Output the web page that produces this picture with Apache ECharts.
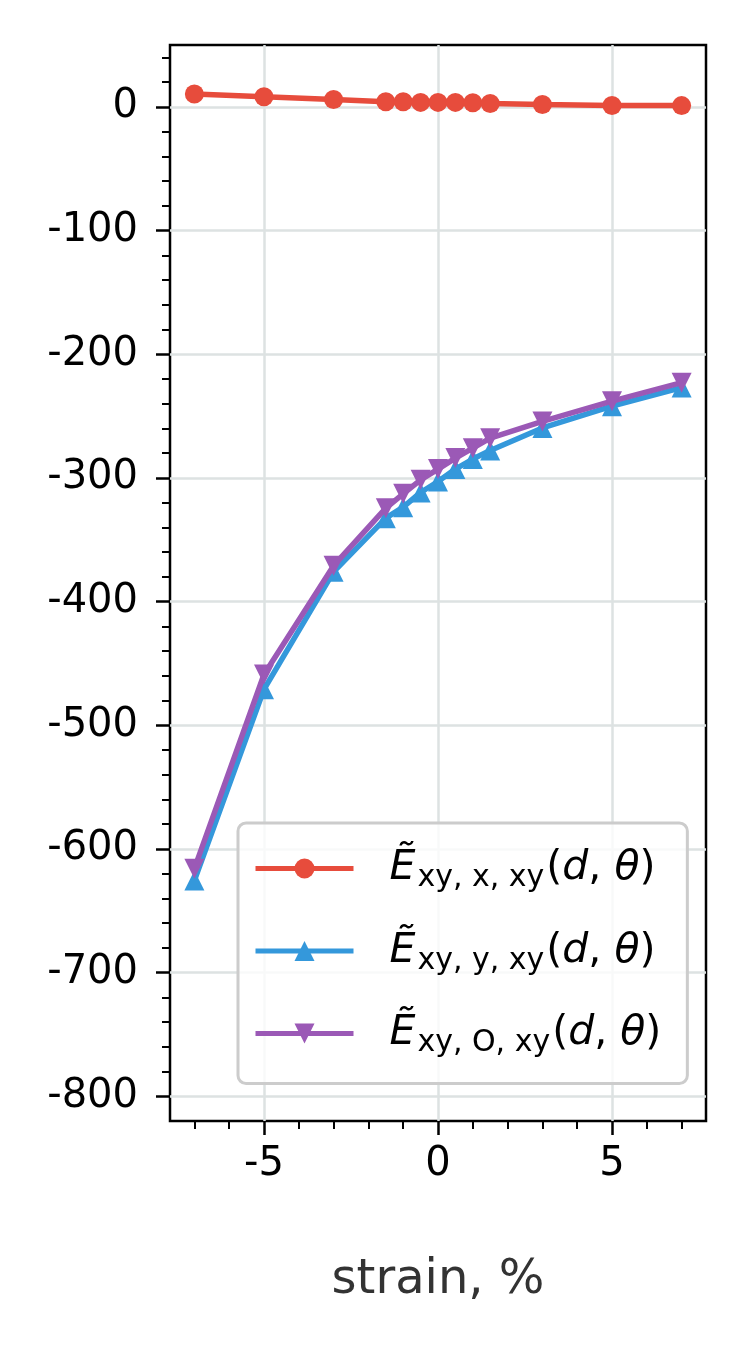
<!DOCTYPE html>
<html>
<head>
<meta charset="utf-8">
<script src="https://cdn.jsdelivr.net/npm/echarts@6/dist/echarts.min.js"></script>
<style>
html,body{margin:0;padding:0;background:#fff;}
#chart{width:750px;height:1350px;}
</style>
</head>
<body>
<div id="chart"></div>
<script>
const strain = [-7, -5, -3, -1.5, -1, -0.5, 0, 0.5, 1, 1.5, 3, 5, 7];
const exx = [10.4, 8.2, 6.0, 4.1, 4.1, 3.6, 3.6, 3.6, 3.3, 2.7, 1.9, 1.1, 1.0];
const eyy = [-625.5, -471, -376, -332.6, -323.7, -311.8, -302.9, -292.9, -284.8, -277.9, -259.6, -242, -227];
const eOO = [-616, -459, -371, -324.5, -312.9, -301.6, -292.9, -284, -276, -267.9, -254.4, -238, -223];
const seriesSubs = ['x', 'y', 'O'];
const xMajorTicks = [-5, 0, 5];
const xMinorTicks = [-7, -6, -4, -3, -2, -1, 1, 2, 3, 4, 6, 7];
const yMajorTicks = [-800, -700, -600, -500, -400, -300, -200, -100, 0];
const yMinorTicks = [-780, -760, -740, -720, -680, -660, -640, -620, -580, -560, -540, -520,
  -480, -460, -440, -420, -380, -360, -340, -320, -280, -260, -240, -220,
  -180, -160, -140, -120, -80, -60, -40, -20, 20, 40];

const FONT = 'DejaVu Sans';
const chart = echarts.init(document.getElementById('chart'), null, {renderer: 'canvas'});

function pair(arr) { return strain.map((x, i) => [x, arr[i]]); }
const names = seriesSubs.map(s => 'E_' + s);

const gridColor = '#dde2e2';
const xBase = {type: 'value', min: -7.7, max: 7.7, gridIndex: 0, position: 'bottom'};
const yBase = {type: 'value', min: -820, max: 50, gridIndex: 0, position: 'left'};
const noLine = {show: false, onZero: false};

const option = {
  backgroundColor: '#fff',
  animation: false,
  grid: {left: 170, right: 44, top: 45, bottom: 229, show: true, borderColor: '#000', borderWidth: 2.5, backgroundColor: 'transparent'},
  xAxis: [
    Object.assign({}, xBase, {
      name: 'strain, %', nameLocation: 'middle', nameGap: 136,
      nameTextStyle: {fontFamily: FONT, fontSize: 48, color: '#333'},
      axisLine: noLine,
      axisTick: {show: true, customValues: xMajorTicks, length: 14, lineStyle: {color: '#000', width: 2.5}},
      axisLabel: {show: true, customValues: xMajorTicks, margin: 24, fontFamily: FONT, fontSize: 40, color: '#000'},
      splitLine: {show: true, lineStyle: {color: gridColor, width: 2.5}}
    }),
    Object.assign({}, xBase, {
      axisLine: noLine,
      axisTick: {show: true, customValues: xMinorTicks, length: 8, lineStyle: {color: '#000', width: 2}},
      axisLabel: {show: false},
      splitLine: {show: false}
    })
  ],
  yAxis: [
    Object.assign({}, yBase, {
      axisLine: noLine,
      axisTick: {show: true, customValues: yMajorTicks, length: 14, lineStyle: {color: '#000', width: 2.5}},
      axisLabel: {show: true, customValues: yMajorTicks, margin: 32, fontFamily: FONT, fontSize: 40, color: '#000'},
      splitLine: {show: true, lineStyle: {color: gridColor, width: 2.5}}
    }),
    Object.assign({}, yBase, {
      axisLine: noLine,
      axisTick: {show: true, customValues: yMinorTicks, length: 8, lineStyle: {color: '#000', width: 2}},
      axisLabel: {show: false},
      splitLine: {show: false}
    })
  ],
  legend: {
    orient: 'vertical', left: 238, top: 823,
    padding: [25, 26, 25, 15],
    itemWidth: 98, itemHeight: 25, itemGap: 37,
    lineStyle: {width: 5},
    backgroundColor: 'rgba(255,255,255,0.8)', borderColor: '#cccccc', borderWidth: 3, borderRadius: 8,
    data: names,
    formatter: function (name) {
      const s = name.split('_')[1];
      return '{E|\u1EBC}{sub|xy, ' + s + ', xy}{m|(}{it|d}{m|, }{it|\u03B8}{m|)}';
    },
    textStyle: {
      padding: [0, 0, 0, 31],
      rich: {
        E: {fontFamily: FONT, fontSize: 41, fontStyle: 'italic', color: '#000', lineHeight: 50, verticalAlign: 'middle'},
        sub: {fontFamily: FONT, fontSize: 30, color: '#000', lineHeight: 28, verticalAlign: 'bottom', padding: [0, 2, 0, 2]},
        m: {fontFamily: FONT, fontSize: 41, color: '#000', lineHeight: 50, verticalAlign: 'middle'},
        it: {fontFamily: FONT, fontSize: 41, fontStyle: 'italic', color: '#000', lineHeight: 50, verticalAlign: 'middle'}
      }
    }
  },
  series: [
    {name: names[0], type: 'line', xAxisIndex: 0, yAxisIndex: 0, data: pair(exx), symbol: 'circle', symbolSize: 19,
     lineStyle: {color: '#e74c3c', width: 5.5}, itemStyle: {color: '#e74c3c'}, z: 3},
    {name: names[1], type: 'line', xAxisIndex: 0, yAxisIndex: 0, data: pair(eyy), symbol: 'triangle', symbolSize: 20,
     lineStyle: {color: '#3498db', width: 5.5}, itemStyle: {color: '#3498db'}, z: 4},
    {name: names[2], type: 'line', xAxisIndex: 0, yAxisIndex: 0, data: pair(eOO), symbol: 'path://M-1,-1L1,-1L0,1Z', symbolSize: 20,
     lineStyle: {color: '#9b59b6', width: 5.5}, itemStyle: {color: '#9b59b6'}, z: 5}
  ]
};
chart.setOption(option);
</script>
</body>
</html>
